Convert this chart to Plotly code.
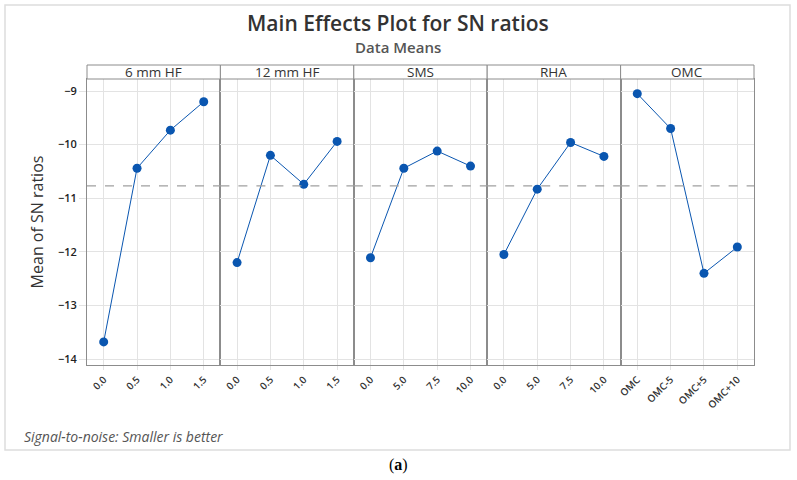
import plotly.graph_objects as go
from plotly.subplots import make_subplots

# factors and their levels
factors = ["6 mm HF", "12 mm HF", "SMS", "RHA", "OMC"]
levels = [
    ["0.0", "0.5", "1.0", "1.5"],
    ["0.0", "0.5", "1.0", "1.5"],
    ["0.0", "5.0", "7.5", "10.0"],
    ["0.0", "5.0", "7.5", "10.0"],
    ["OMC", "OMC-5", "OMC+5", "OMC+10"],
]
hf6_sn = [-13.68, -10.44, -9.73, -9.20]
hf12_sn = [-12.20, -10.20, -10.74, -9.94]
sms_sn = [-12.11, -10.44, -10.12, -10.40]
rha_sn = [-12.05, -10.83, -9.96, -10.22]
omc_sn = [-9.05, -9.70, -12.40, -11.91]
sn_means = [hf6_sn, hf12_sn, sms_sn, rha_sn, omc_sn]
grand_mean = -10.77
y_ticks = [-9, -10, -11, -12, -13, -14]

W, H = 797, 480
x0, x1 = 87, 754
strip_top, plot_top, plot_bot = 65, 79, 365
pw = (x1 - x0) / 5

fig = make_subplots(rows=1, cols=5, shared_yaxes=True, horizontal_spacing=0)

blue = "#0a56b0"
frame = "#8c8c8c"
grid = "#e3e3e3"

for i, (f, lv, vals) in enumerate(zip(factors, levels, sn_means)):
    fig.add_trace(go.Scatter(
        x=lv, y=vals, mode="lines+markers",
        line=dict(color=blue, width=1),
        marker=dict(color=blue, size=9),
        showlegend=False), row=1, col=i + 1)
    xa = "xaxis" if i == 0 else "xaxis%d" % (i + 1)
    fig.layout[xa].update(
        domain=[(x0 + i * pw) / W, (x0 + (i + 1) * pw) / W],
        type="category", categoryorder="array", categoryarray=lv,
        range=[-0.5, 3.5], tickangle=-45, automargin=False,
        showgrid=True, gridcolor=grid, gridwidth=1,
        showline=True, linecolor=frame, linewidth=1, mirror=True,
        ticks="outside", ticklen=4, tickcolor=grid,
        tickfont=dict(family="Open Sans", size=10, color="#333", weight=600),
        zeroline=False)
    # strip header
    fig.add_shape(type="rect", xref="paper", yref="paper",
                  x0=(x0 + i * pw) / W, x1=(x0 + (i + 1) * pw) / W,
                  y0=1 - plot_top / H, y1=1 - strip_top / H,
                  line=dict(color=frame, width=1), fillcolor="white")
    fig.add_annotation(text=f, xref="paper", yref="paper",
                       x=(x0 + (i + 0.5) * pw) / W, y=1 - (strip_top + plot_top) / 2 / H,
                       showarrow=False, xanchor="center", yanchor="middle",
                       font=dict(family="Open Sans", size=13.5, color="#333"))
    ya = "y" if i == 0 else "y%d" % (i + 1)
    fig.add_shape(type="line", xref="x%s domain" % ("" if i == 0 else i + 1), yref=ya,
                  x0=0, x1=1, y0=grand_mean, y1=grand_mean,
                  line=dict(color="#a0a0a0", width=1.2, dash="dash"))

for i in range(5):
    ya = "yaxis" if i == 0 else "yaxis%d" % (i + 1)
    fig.layout[ya].update(
        domain=[1 - plot_bot / H, 1 - plot_top / H], automargin=False,
        range=[-14.11, -8.776], tickvals=y_ticks,
        ticktext=["\u2212%d" % abs(v) for v in y_ticks],
        showgrid=True, gridcolor=grid, zeroline=False,
        showline=True, linecolor=frame, linewidth=1, mirror=True,
        ticks="outside" if i == 0 else "", ticklen=7, tickcolor=grid,
        tickfont=dict(family="Open Sans", size=11, color="#222", weight=600))

fig.layout.yaxis.title = dict(text="Mean of SN ratios", standoff=10,
                              font=dict(family="Open Sans", size=16, color="#333"))

# outer frame
fig.add_shape(type="rect", xref="paper", yref="paper",
              x0=5 / W, x1=790 / W, y0=1 - 450 / H, y1=1 - 5 / H,
              line=dict(color="#dddddd", width=1.5), layer="below")

fig.add_annotation(text="Main Effects Plot for SN ratios", xref="paper", yref="paper",
                   x=398 / W, y=1 - 23 / H, showarrow=False, xanchor="center", yanchor="middle",
                   font=dict(family="Open Sans", size=21, color="#333", weight=600))
fig.add_annotation(text="Data Means", xref="paper", yref="paper",
                   x=398 / W, y=1 - 47 / H, showarrow=False, xanchor="center", yanchor="middle",
                   font=dict(family="Open Sans", size=15, color="#555", weight=600))
fig.add_annotation(text="<i>Signal-to-noise: Smaller is better</i>", xref="paper", yref="paper",
                   x=22 / W, y=1 - 436 / H, showarrow=False, xanchor="left", yanchor="middle",
                   font=dict(family="Open Sans", size=14, color="#555"))
fig.add_annotation(text="(<b>a</b>)", xref="paper", yref="paper",
                   x=398 / W, y=1 - 465 / H, showarrow=False, xanchor="center", yanchor="middle",
                   font=dict(family="Liberation Serif", size=16, color="#000"))

fig.update_layout(width=W, height=H, margin=dict(l=0, r=0, t=0, b=0),
                  paper_bgcolor="white", plot_bgcolor="white")

# drop the browser's default page margin so the figure sits at 0,0
fig.write_html("out.html", config={"displayModeBar": False},
               post_script="document.body.style.margin = '0';")
